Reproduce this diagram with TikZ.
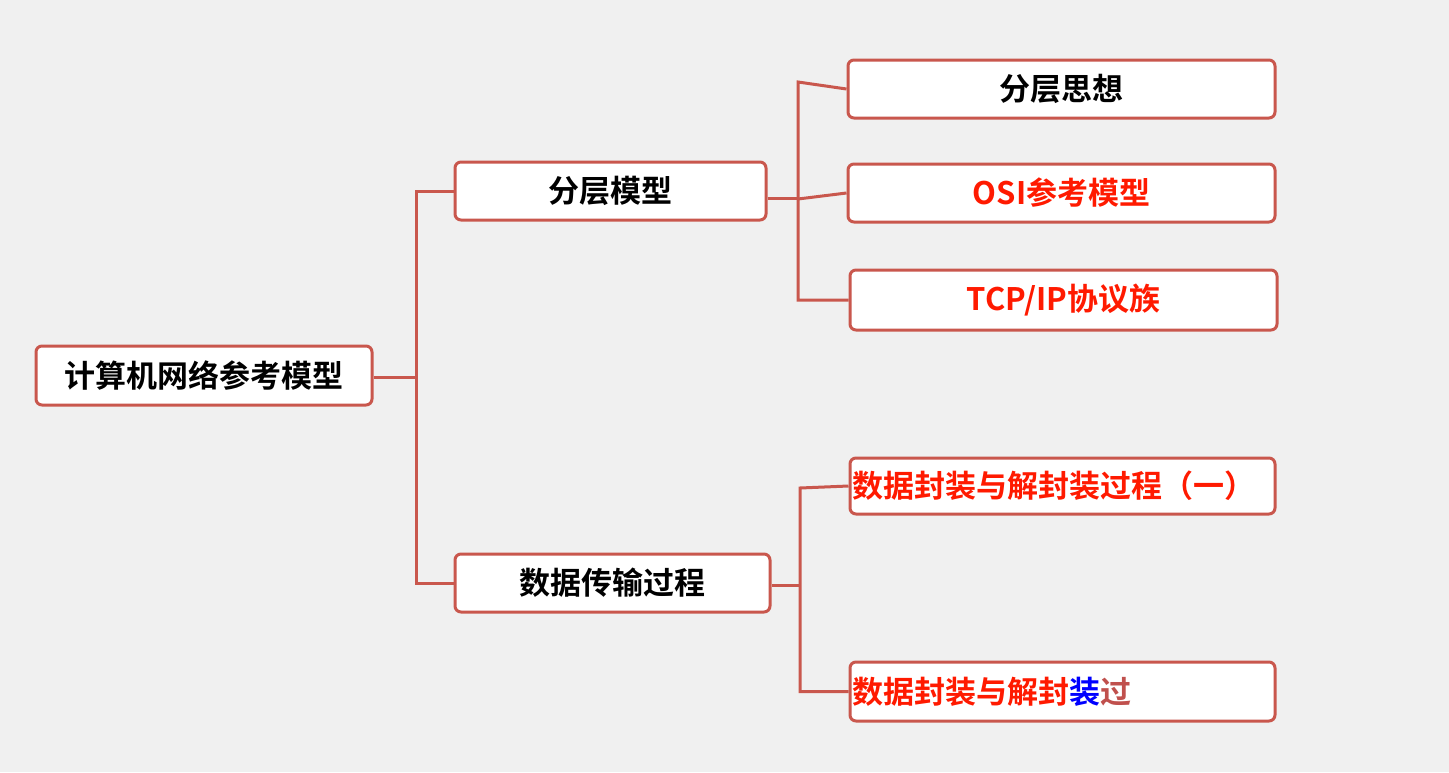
\documentclass[tikz,border=0pt]{standalone}
\usepackage{fontspec}
\newfontfamily\cjk{Noto Sans CJK SC Bold}
\definecolor{edge}{HTML}{C9574D}
\definecolor{bg}{HTML}{F0F0F0}
\definecolor{tred}{HTML}{FF1A00}
\definecolor{brn}{HTML}{C0504D}
\begin{document}
\begin{tikzpicture}[x=1pt,y=-1pt,
  box/.style={draw=edge,line width=3pt,rounded corners=6pt,fill=white,inner sep=0pt,
    font=\cjk\fontsize{31}{34}\selectfont},
  conn/.style={draw=edge,line width=3pt}]
\fill[bg] (0,0) rectangle (1449,772);
\useasboundingbox (0,0) rectangle (1449,772);
\node[box,minimum width=336,minimum height=59] (root) at (204,375.5) {计算机网络参考模型};
\node[box,minimum width=311,minimum height=58] (a) at (610.5,191) {分层模型};
\node[box,minimum width=315,minimum height=58] (b) at (612.5,583) {数据传输过程};
\node[box,minimum width=427,minimum height=58] (a1) at (1061.5,89) {分层思想};
\node[box,minimum width=427,minimum height=58,text=tred] (a2) at (1061.5,193) {OSI参考模型};
\node[box,minimum width=427,minimum height=60,text=tred] (a3) at (1063.5,300) {TCP/IP协议族};
\node[box,minimum width=425,minimum height=56,text=tred,text width=421,align=left] (b1) at (1062.5,486) {数据封装与解封装过程（一）};
\node[box,minimum width=425,minimum height=59,text=tred,text width=421,align=left] (b2) at (1062.5,691.5) {数据封装与解封{\color{blue}装}{\color{brn}过}};
\draw[conn] (root.east|-0,377) -- (416,377) coordinate (j1);
\draw[conn] (a.west) -- (416,191) |- (b.west);
\draw[conn] (a.east|-0,198) -- (798,198) coordinate (j2);
\draw[conn] (a1.west) -- (798,82) |- (a3.west);
\draw[conn] (798,199) -- (a2.west);
\draw[conn] (b.east|-0,585) -- (800,585) coordinate (j3);
\draw[conn] (b1.west) -- (800,488) |- (b2.west);
\end{tikzpicture}
\end{document}
